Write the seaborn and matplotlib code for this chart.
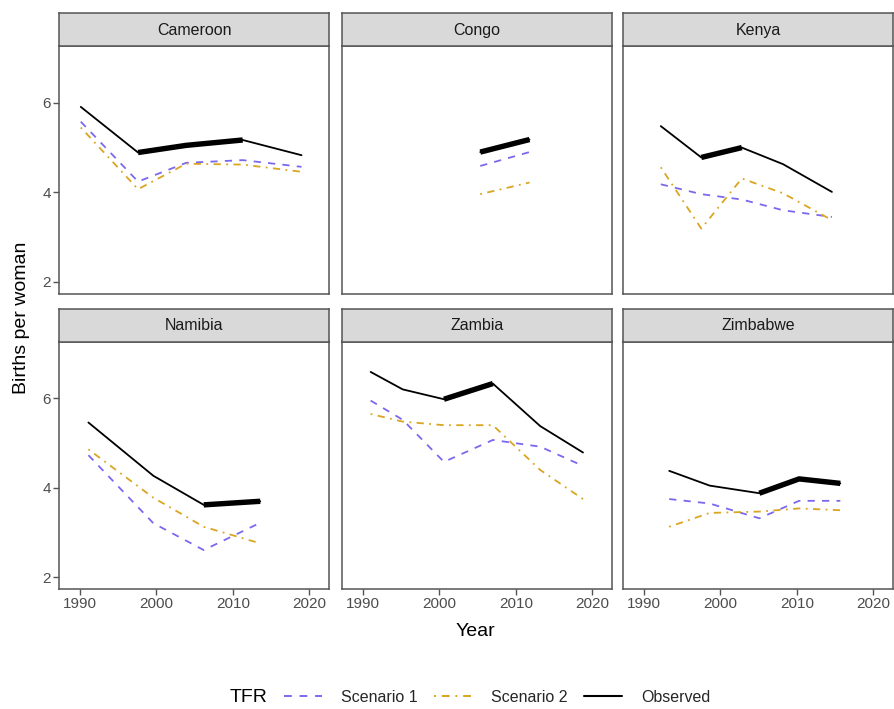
import matplotlib
matplotlib.use("Agg")
import matplotlib.pyplot as plt
from matplotlib.lines import Line2D
import seaborn as sns
import pandas as pd

# ---------------- data ----------------
countries = ["Cameroon", "Congo", "Kenya", "Namibia", "Zambia", "Zimbabwe"]

years = {
    "Cameroon": [1990.1, 1997.6, 2003.9, 2011.3, 2019.0],
    "Congo":    [2005.35, 2011.8],
    "Kenya":    [1992.2, 1997.5, 2002.8, 2008.2, 2014.6],
    "Namibia":  [1991.1, 1999.6, 2006.2, 2013.6],
    "Zambia":   [1991.0, 1995.2, 2000.6, 2007.0, 2013.2, 2018.8],
    "Zimbabwe": [1993.3, 1998.6, 2005.1, 2010.3, 2015.7],
}
observed = {
    "Cameroon": [5.91, 4.89, 5.05, 5.17, 4.83],
    "Congo":    [4.90, 5.18],
    "Kenya":    [5.48, 4.78, 5.00, 4.63, 4.01],
    "Namibia":  [5.46, 4.27, 3.62, 3.70],
    "Zambia":   [6.59, 6.20, 5.98, 6.33, 5.38, 4.79],
    "Zimbabwe": [4.38, 4.05, 3.88, 4.20, 4.10],
}
scenario1 = {
    "Cameroon": [5.58, 4.24, 4.66, 4.72, 4.57],
    "Congo":    [4.59, 4.90],
    "Kenya":    [4.18, 3.96, 3.84, 3.60, 3.45],
    "Namibia":  [4.73, 3.21, 2.61, 3.22],
    "Zambia":   [5.95, 5.52, 4.58, 5.07, 4.92, 4.49],
    "Zimbabwe": [3.75, 3.65, 3.32, 3.71, 3.71],
}
scenario2 = {
    "Cameroon": [5.45, 4.07, 4.64, 4.62, 4.46],
    "Congo":    [3.96, 4.22],
    "Kenya":    [4.56, 3.19, 4.31, 3.98, 3.38],
    "Namibia":  [4.86, 3.78, 3.13, 2.76],
    "Zambia":   [5.65, 5.48, 5.40, 5.40, 4.40, 3.75],
    "Zimbabwe": [3.13, 3.44, 3.47, 3.54, 3.50],
}
# stall period (index range in observed series drawn thick)
stall_from = {"Cameroon": 1, "Congo": 0, "Kenya": 1, "Namibia": 2, "Zambia": 2, "Zimbabwe": 2}
stall_to   = {"Cameroon": 3, "Congo": 1, "Kenya": 2, "Namibia": 3, "Zambia": 3, "Zimbabwe": 4}

series_names = ["Scenario 1", "Scenario 2", "Observed"]
x_ticks = [1990, 2000, 2010, 2020]
y_ticks = [2, 4, 6]

# ---------------- tidy tables ----------------
rows = []
for c in countries:
    for name, src in zip(series_names, [scenario1, scenario2, observed]):
        for yr, v in zip(years[c], src[c]):
            rows.append({"country": c, "year": yr, "value": v, "series": name})
df = pd.DataFrame(rows)

srows = []
for c in countries:
    for i in range(stall_from[c], stall_to[c] + 1):
        srows.append({"country": c, "year": years[c][i], "value": observed[c][i], "seg": 0})
stall = pd.DataFrame(srows)

# ---------------- style ----------------
sns.set_theme(style="white")
plt.rcParams["font.family"] = ["Liberation Sans", "DejaVu Sans"]

palette = {"Scenario 1": "#7B68EE", "Scenario 2": "#DAA520", "Observed": "black"}
dashes = {"Scenario 1": (4, 4), "Scenario 2": (1, 3, 4, 3), "Observed": ""}
border = "#555555"
tick_col = "#4D4D4D"

W, H = 894, 709
fig = plt.figure(figsize=(W / 100, H / 100), dpi=100)

col_left = [59, 342, 623]
pw = 270
row_top = [46, 341.5]
ph = 247.5
strip_h = 33

for k, c in enumerate(countries):
    r, col = divmod(k, 3)
    x0 = col_left[col]
    y0 = row_top[r]
    ax = fig.add_axes([x0 / W, 1 - (y0 + ph) / H, pw / W, ph / H])
    sub = df[df.country == c]
    sns.lineplot(data=sub, x="year", y="value", hue="series", style="series",
                 hue_order=series_names, style_order=series_names,
                 palette=palette, dashes=dashes, linewidth=1.3,
                 estimator=None, sort=False, legend=False, ax=ax)
    ss = stall[stall.country == c]
    sns.lineplot(data=ss, x="year", y="value", units="seg", estimator=None,
                 color="black", linewidth=3.9, sort=False, legend=False, ax=ax,
                 solid_capstyle="butt")
    ax.set_xlim(1987.25, 2022.6)
    ax.set_ylim(1.74, 7.27)
    ax.set_xticks(x_ticks)
    ax.set_yticks(y_ticks)
    ax.set_xlabel("")
    ax.set_ylabel("")
    for sp in ax.spines.values():
        sp.set_color(border)
        sp.set_linewidth(1.1)
    ax.tick_params(axis="both", colors=border, labelcolor=tick_col, labelsize=11,
                   length=4, width=1.0, direction="out")
    ax.tick_params(axis="x", bottom=(r == 1), labelbottom=(r == 1), pad=2)
    ax.tick_params(axis="y", left=(col == 0), labelleft=(col == 0), pad=2)
    ax.grid(False)

    # strip
    sax = fig.add_axes([x0 / W, 1 - y0 / H, pw / W, strip_h / H])
    sax.set_facecolor("#D9D9D9")
    sax.set_xticks([])
    sax.set_yticks([])
    for sp in sax.spines.values():
        sp.set_color(border)
        sp.set_linewidth(1.1)
    sax.text(0.5, 0.47, c, ha="center", va="center", fontsize=11.5,
             color="#1A1A1A", transform=sax.transAxes)

fig.text(22 / W, 1 - 318 / H, "Births per woman", rotation=90, ha="center",
         va="center", fontsize=14, color="black")
fig.text(475 / W, 1 - 632 / H, "Year", ha="center", va="center", fontsize=14,
         color="black")

# legend
fig.text(230 / W, 1 - 697 / H, "TFR", ha="left", va="center", fontsize=14, color="black")
handles = [Line2D([], [], color=palette[n], linewidth=1.4,
                  dashes=dashes[n]) for n in series_names[:2]]
handles.append(Line2D([], [], color="black", linewidth=1.5))
leg = fig.legend(handles, series_names, loc="center", ncol=3,
                 bbox_to_anchor=(497 / W, 1 - 697 / H), frameon=False,
                 fontsize=11.5, handlelength=2.4, columnspacing=1.0, handletextpad=1.2)

fig.savefig("out.png", dpi=100)
